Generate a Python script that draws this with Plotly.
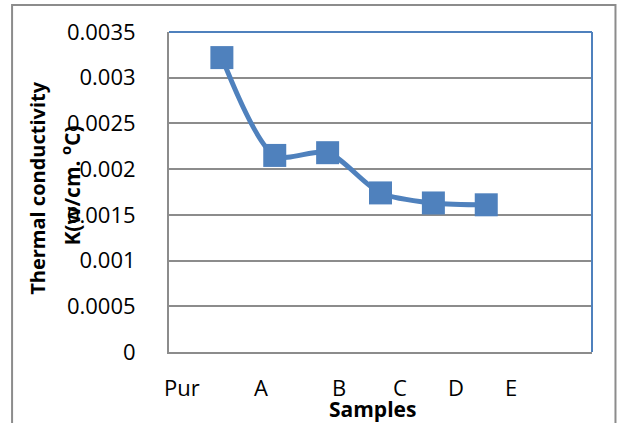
import plotly.graph_objects as go

# Thermal conductivity of the samples
samples = ["Pur", "A", "B", "C", "D", "E"]
conductivity = [0.00322, 0.00215, 0.00218, 0.00174, 0.00163, 0.00161]

# category label positions along the x axis (slot units)
label_pos = [0.25, 1.74, 3.21, 4.37, 5.43, 6.46]
y_ticks = [0, 0.0005, 0.001, 0.0015, 0.002, 0.0025, 0.003, 0.0035]
y_tick_text = ["0", "0.0005", "0.001", "0.0015", "0.002", "0.0025", "0.003", "0.0035"]

BLUE = "#4F81BD"
GRID = "#8C8C8C"
FONT = "Open Sans"

x_vals = list(range(1, len(samples) + 1))

fig = go.Figure()
fig.add_trace(go.Scatter(
    x=x_vals, y=conductivity, mode="lines+markers",
    line=dict(color=BLUE, width=5, shape="spline", smoothing=0.8),
    marker=dict(symbol="square", size=23, color=BLUE),
    showlegend=False, hoverinfo="skip",
))

annotations = []
for name, pos in zip(samples, label_pos):
    annotations.append(dict(
        text=name, x=pos, xref="x", y=0, yref="paper",
        yanchor="middle", xanchor="center", yshift=-35, showarrow=False,
        font=dict(family=FONT, size=22, color="#000000"),
    ))
annotations.append(dict(
    text="<b>Samples</b>", x=0.5, xref="paper", y=0, yref="paper",
    yanchor="middle", xanchor="center", xshift=-8, yshift=-57, showarrow=False,
    font=dict(family=FONT, size=21, color="#000000"),
))
annotations.append(dict(
    text="<b>Thermal conductivity</b>", x=0, xref="paper", y=0.51, yref="paper",
    xanchor="center", yanchor="middle", xshift=-131, textangle=-90, showarrow=False,
    font=dict(family=FONT, size=20, color="#000000"),
))
annotations.append(dict(
    text="<b>K(w/cm. <sup>o</sup>C)</b>", x=0, xref="paper", y=0.52, yref="paper",
    xanchor="center", yanchor="middle", xshift=-98, textangle=-90, showarrow=False,
    font=dict(family=FONT, size=21, color="#000000"),
))

shapes = [
    # outer frame around the chart
    dict(type="rect", xref="paper", yref="paper", x0=-0.371, x1=1.0555, y0=-0.3, y1=1.084,
         line=dict(color="#8C8C8C", width=2), fillcolor="rgba(0,0,0,0)", layer="below"),
    # blue top and right edges of the plot area
    dict(type="line", xref="paper", yref="paper", x0=0, x1=1, y0=1, y1=1,
         line=dict(color=BLUE, width=2)),
    dict(type="line", xref="paper", yref="paper", x0=1, x1=1, y0=0, y1=1,
         line=dict(color=BLUE, width=2)),
]

fig.update_layout(
    width=617, height=423,
    margin=dict(l=169, r=25, t=32, b=71),
    paper_bgcolor="white", plot_bgcolor="white",
    annotations=annotations, shapes=shapes,
    xaxis=dict(range=[0, 8], showticklabels=False, showgrid=False, zeroline=False,
               showline=True, linecolor=GRID, linewidth=2, ticks=""),
    yaxis=dict(range=[0, 0.0035], tickvals=y_ticks, ticktext=y_tick_text,
               showgrid=True, gridcolor=GRID, gridwidth=2, zeroline=False,
               showline=True, linecolor=GRID, linewidth=2, ticks="",
               ticklabelstandoff=27,
               tickfont=dict(family=FONT, size=22, color="#000000")),
)

fig.write_html("out.html")
